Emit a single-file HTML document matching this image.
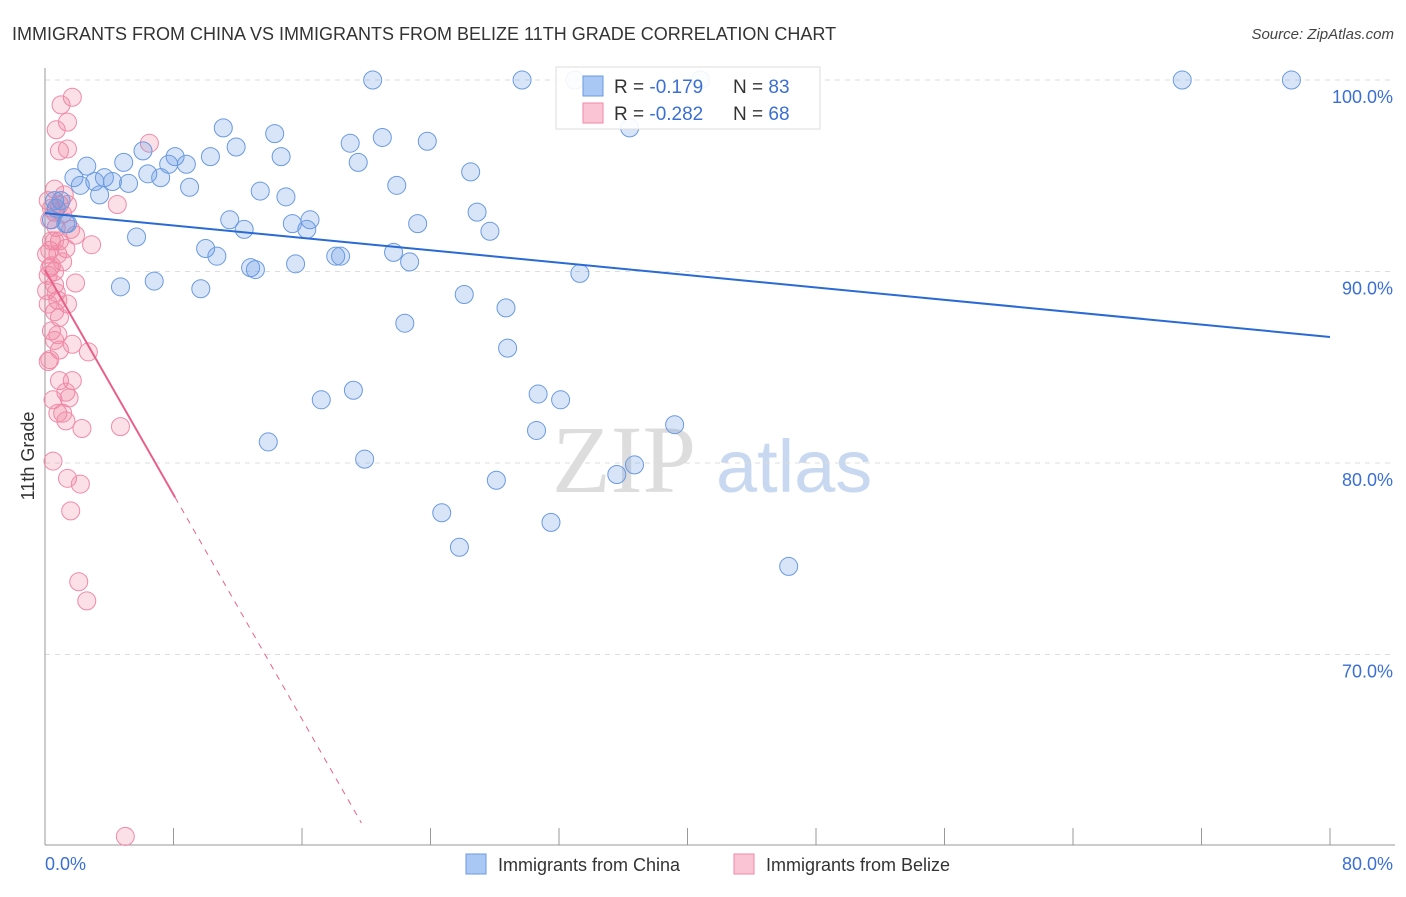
<!DOCTYPE html>
<html><head><meta charset="utf-8"><style>
body{margin:0;background:#fff;font-family:"Liberation Sans",sans-serif}
svg text{font-family:"Liberation Sans",sans-serif}
</style></head><body>
<svg id="chart" width="1406" height="892" xmlns="http://www.w3.org/2000/svg">
<text x="12" y="40" font-size="18" fill="#333">IMMIGRANTS FROM CHINA VS IMMIGRANTS FROM BELIZE 11TH GRADE CORRELATION CHART</text>
<text x="1394" y="39" font-size="15" fill="#444" font-style="italic" text-anchor="end">Source: ZipAtlas.com</text>
<g>
<text x="552" y="492" font-size="96" fill="#ddd" font-family="Liberation Serif" style="font-family:'Liberation Serif',serif">ZIP</text>
<text x="716" y="492" font-size="74" fill="#c8d8f0">atlas</text>
</g>
<g id="grid"></g>
<g id="axes"></g>
<g id="pts"></g>
<g id="trends"></g>
<text transform="translate(34,456) rotate(-90)" font-size="18" fill="#333" text-anchor="middle">11th Grade</text>
<g>
<rect x="556" y="67" width="264" height="62" fill="#fff" fill-opacity="0.9" stroke="#ddd"/>
<rect x="583" y="76" width="20" height="20" fill="#aac8f4" stroke="#6a9ae0"/>
<rect x="583" y="103" width="20" height="20" fill="#fbc4d4" stroke="#f08aa8"/>
<text x="614" y="93" font-size="19" fill="#333">R = <tspan fill="#3b6fd4">-0.179</tspan></text>
<text x="733" y="93" font-size="19" fill="#333">N = <tspan fill="#3b6fd4">83</tspan></text>
<text x="614" y="120" font-size="19" fill="#333">R = <tspan fill="#3b6fd4">-0.282</tspan></text>
<text x="733" y="120" font-size="19" fill="#333">N = <tspan fill="#3b6fd4">68</tspan></text>
</g>
<g>
<rect x="466" y="854" width="20" height="20" fill="#aac8f4" stroke="#6a9ae0"/>
<text x="498" y="871" font-size="18" fill="#333">Immigrants from China</text>
<rect x="734" y="854" width="20" height="20" fill="#fbc4d4" stroke="#f08aa8"/>
<text x="766" y="871" font-size="18" fill="#333">Immigrants from Belize</text>
</g>
</svg>
<script>
const chinaX=[20.4,29.7,33.0,40.8,70.8,77.6,36.4,11.1,14.3,21.0,23.8,19.0,11.9,6.1,14.7,10.3,8.1,19.5,4.9,2.6,7.7,8.8,1.8,6.4,7.2,3.7,4.2,3.1,5.2,2.2,9.0,21.9,26.5,13.4,15.0,3.4,1.0,0.6,26.9,11.5,16.5,15.4,23.2,12.4,16.3,1.4,27.7,5.7,10.0,10.7,21.7,22.7,18.1,18.4,12.8,13.1,15.6,33.3,4.7,6.8,9.7,26.1,28.7,22.4,28.8,19.2,17.2,30.7,32.1,30.6,13.9,39.2,19.9,36.7,35.6,28.1,24.7,31.5,25.8,46.3,0.7,1.3,0.4];
const chinaY=[100,100,100,100,100,100,97.5,97.5,97.2,97.0,96.8,96.7,96.5,96.3,96.0,96.0,96.0,95.7,95.7,95.5,95.6,95.6,94.9,95.1,94.9,94.9,94.7,94.7,94.6,94.5,94.4,94.5,95.2,94.2,93.9,94.0,93.7,93.7,93.1,92.7,92.7,92.5,92.5,92.2,92.2,92.5,92.1,91.8,91.2,90.8,91.0,90.5,90.8,90.8,90.2,90.1,90.4,89.9,89.2,89.5,89.1,88.8,88.1,87.3,86.0,83.8,83.3,83.6,83.3,81.7,81.1,82.0,80.2,79.9,79.4,79.1,77.4,76.9,75.6,74.6,93.3,92.5,92.7];
const belizeX=[1.7,1.0,1.4,0.7,1.4,0.9,6.5,0.6,1.2,4.5,0.9,1.4,0.6,0.3,0.7,1.9,0.4,0.9,2.9,1.3,0.3,1.1,0.3,0.6,0.2,1.9,0.6,0.8,1.4,0.6,0.9,0.4,0.8,0.6,1.7,2.7,0.2,0.9,1.7,1.3,0.5,1.5,0.8,1.1,2.3,4.7,0.5,1.4,2.2,1.6,2.1,2.6,5.0,0.2,0.4,1.1,1.6,0.1,0.4,0.7,0.2,0.9,0.3,1.3,0.6,0.8,0.1];
const belizeY=[99.1,98.7,97.8,97.4,96.4,96.3,96.7,94.3,94.0,93.5,93.5,93.5,93.1,92.7,92.3,91.9,91.6,91.6,91.4,91.2,91.1,90.5,90.2,90.0,89.8,89.4,89.3,88.5,88.3,87.9,87.6,86.9,86.7,86.4,86.2,85.8,85.3,84.3,84.3,83.7,83.3,83.4,82.6,82.6,81.8,81.9,80.1,79.2,78.9,77.5,73.8,72.8,60.5,93.7,93.3,93.0,92.2,90.9,90.3,88.9,88.3,85.9,85.4,82.2,91.6,90.9,89.0];
const chinaTrend=[93.05,86.58];   // y at x=0 and x=80
const belizeTrend=[90.08,-1.466]; // intercept, slope
const yTicks=[100,90,80,70];
const xTickLabels=["0.0%","80.0%"];

const NS="http://www.w3.org/2000/svg";
const X0=45,X1=1330,YT=80,PXPER=19.15,YB=845;
const sx=v=>X0+(v/80)*(X1-X0);
const sy=v=>YT+(100-v)*PXPER;
function mk(tag,attrs,parent){const e=document.createElementNS(NS,tag);for(const k in attrs)e.setAttribute(k,attrs[k]);parent.appendChild(e);return e;}
const grid=document.getElementById('grid'),axes=document.getElementById('axes'),pts=document.getElementById('pts'),tr=document.getElementById('trends');
yTicks.forEach(t=>{
  const l=mk('line',{x1:X0,x2:1395,y1:sy(t),y2:sy(t),stroke:'#ddd','stroke-dasharray':'5,5'},grid);
  
  
  const tx=mk('text',{x:1393,y:sy(t)+23,'font-size':18,fill:'#3b6fd4','text-anchor':'end'},grid);
  tx.textContent=t.toFixed(1)+'%';
  
  
});
const ya=mk('line',{x1:X0,x2:X0,y1:68,y2:YB,stroke:'#999'},axes);


const xa=mk('line',{x1:X0,x2:1395,y1:YB,y2:YB,stroke:'#999'},axes);


for(let k=0;k<=10;k++){
  const x=sx(k*8);
  const t=mk('line',{x1:x,x2:x,y1:828,y2:YB,stroke:'#999'},axes);
  
  
}
const xl0=mk('text',{x:X0,y:870,'font-size':18,fill:'#3b6fd4'},axes);xl0.textContent=xTickLabels[0];


const xl1=mk('text',{x:1393,y:870,'font-size':18,fill:'#3b6fd4','text-anchor':'end'},axes);xl1.textContent=xTickLabels[1];


belizeX.forEach((v,i)=>{
  const c=mk('circle',{cx:sx(v),cy:sy(belizeY[i]),r:9,fill:'rgba(240,130,160,0.25)',stroke:'#f08aa8','stroke-width':1},pts);
  
  
});
chinaX.forEach((v,i)=>{
  const c=mk('circle',{cx:sx(v),cy:sy(chinaY[i]),r:9,fill:'rgba(100,150,230,0.25)',stroke:'#6a9ae0','stroke-width':1},pts);
  
  
});
const cl=mk('line',{x1:sx(0),y1:sy(chinaTrend[0]),x2:sx(80),y2:sy(chinaTrend[1]),stroke:'#2a6ad4','stroke-width':2},tr);


const bx1=8.1,bx2=19.7;
const bl=mk('line',{x1:sx(0),y1:sy(belizeTrend[0]),x2:sx(bx1),y2:sy(belizeTrend[0]+belizeTrend[1]*bx1),stroke:'#e8608a','stroke-width':2},tr);


const bd=mk('line',{x1:sx(bx1),y1:sy(belizeTrend[0]+belizeTrend[1]*bx1),x2:sx(bx2),y2:sy(belizeTrend[0]+belizeTrend[1]*bx2),stroke:'#e8608a','stroke-width':1,'stroke-dasharray':'6,6'},tr);


</script>
</body></html>
